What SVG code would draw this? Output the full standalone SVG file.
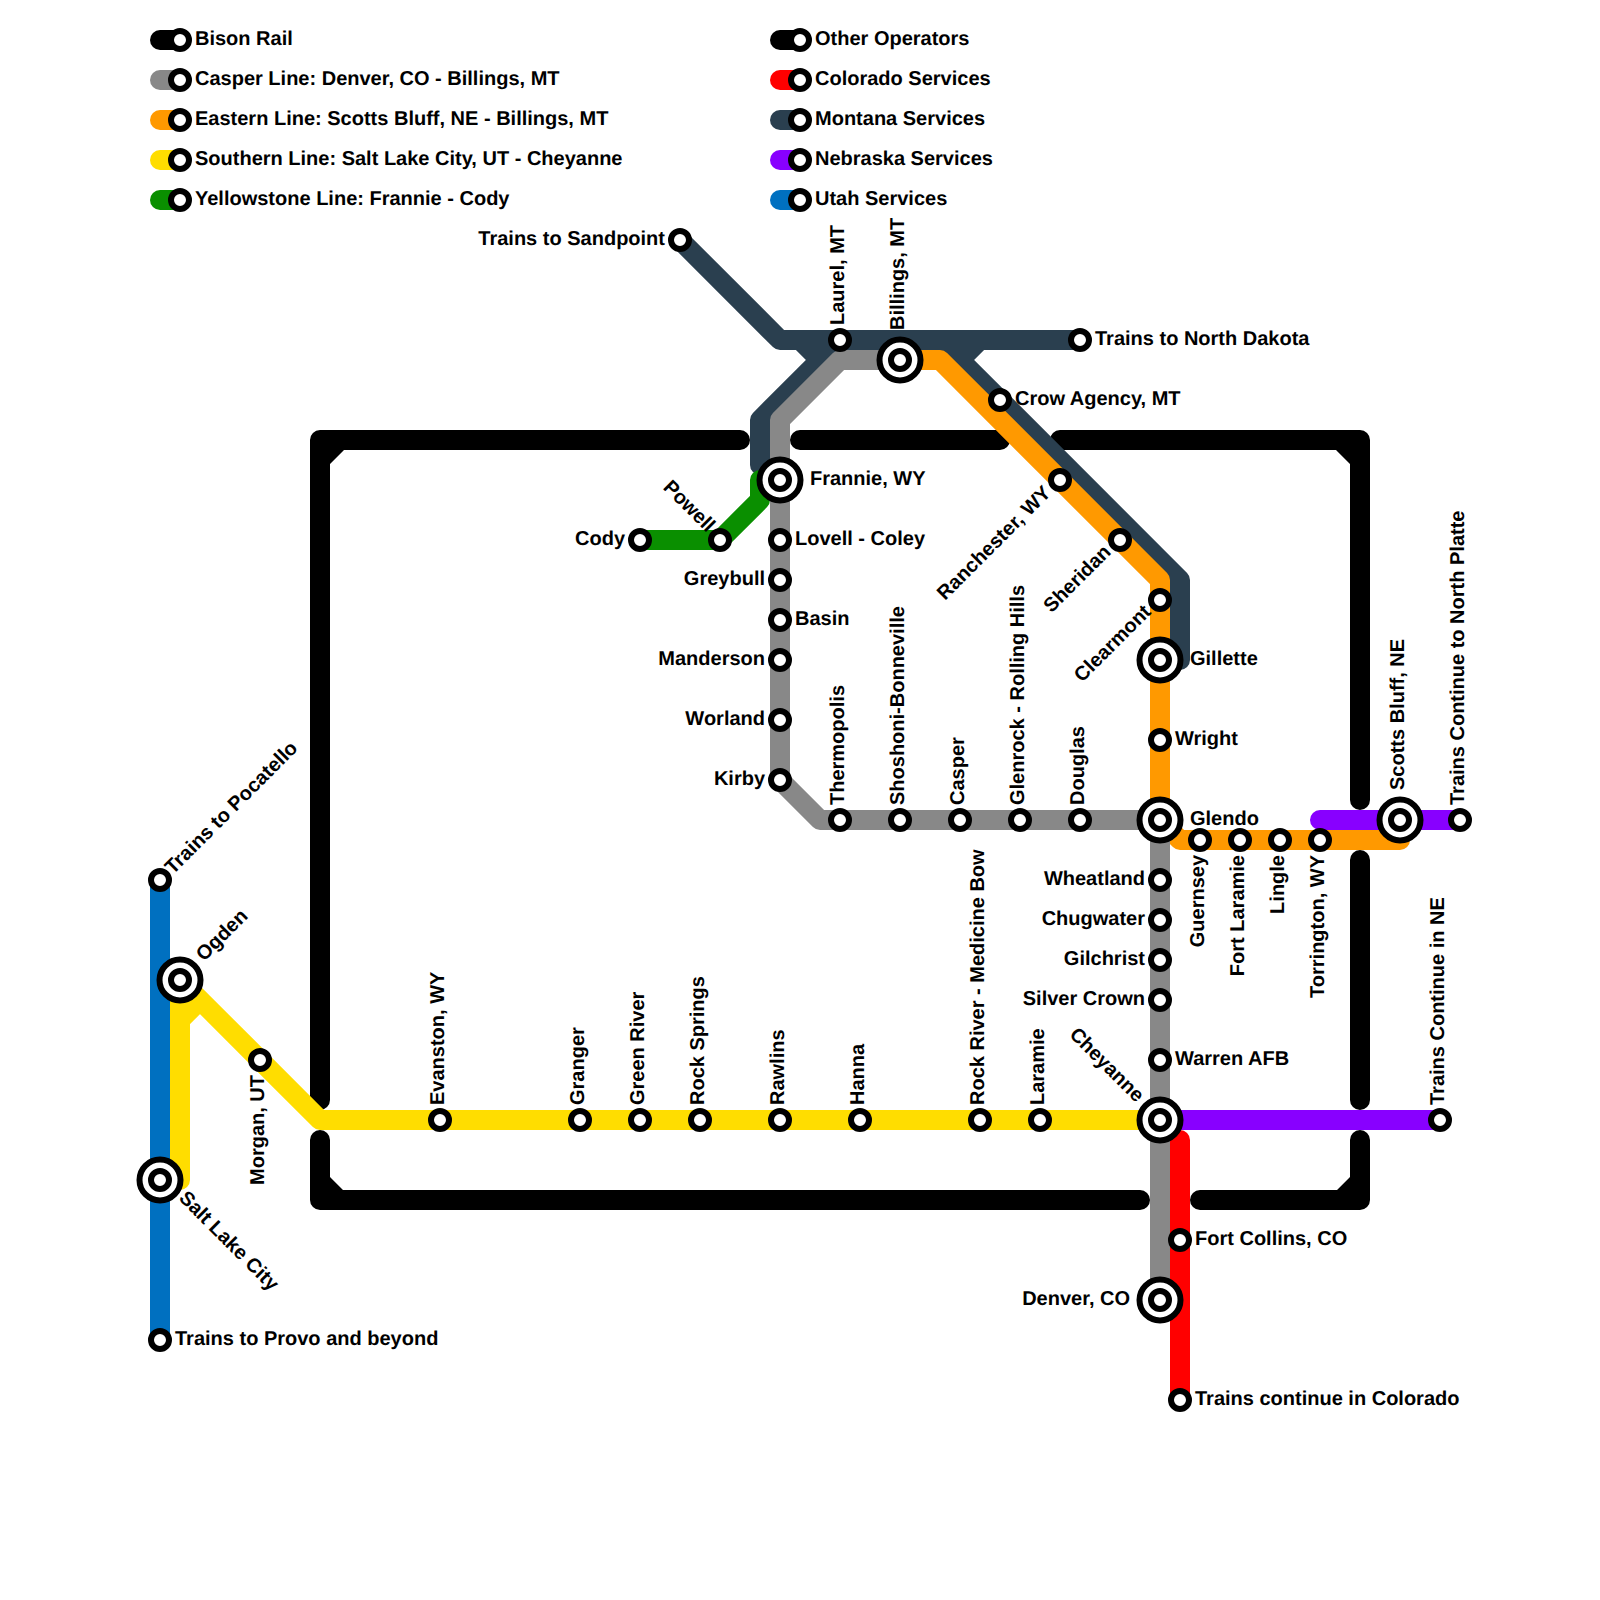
<svg xmlns="http://www.w3.org/2000/svg" width="1600" height="1600" viewBox="0 0 1600 1600">
<style>
text{font-family:"Liberation Sans",Arial,sans-serif;font-weight:700;font-size:20px;fill:#000;text-rendering:geometricPrecision}
.e{text-anchor:end}
.ln{fill:none;stroke-width:20;stroke-linecap:round;stroke-linejoin:round}
.k{stroke:#000}.g{stroke:#888}.o{stroke:#f90}.y{stroke:#fd0}.v{stroke:#0a8f00}.r{stroke:#f00}.n{stroke:#2a3f4f}.p{stroke:#80f}.b{stroke:#0070c0}
.s{fill:#fff;stroke:#000;stroke-width:6}
.i{fill:#fff;stroke:#000;stroke-width:6}
</style>
<defs>
<g id="st"><circle class="s" r="9"/></g>
<g id="bg"><circle class="i" r="20.5"/><circle class="s" r="9"/></g>
</defs>
<g id="connectors">
<path class="ln k" d="M320,1100V440H740M800,440H1000M1060,440H1360V800M1360,860V1100M1360,1140V1200H1200M1140,1200H320V1140"/>
<path fill="#000" d="M330,464V450H344ZM1336,450H1350V464ZM330,1177V1190H343ZM1350,1177V1190H1337Z"/>
<path class="ln b" d="M160,880V1340"/>
<path class="ln y" d="M180,1180V980L320,1120H1160M180,1020L200,1000"/>
<path class="ln r" d="M1180,1140V1400"/>
<path class="ln p" d="M1320,820H1460M1160,1120H1440"/>
<path class="ln n" d="M680,240L780,340H1080M840,340L760,420V465M940,340L1180,580V660M800,340L820,360M980,340L960,360"/>
<path class="ln o" d="M900,360H940L1160,580V820L1180,840H1400V820"/>
<path class="ln g" d="M900,360H840L780,420V780L820,820H1160V1300"/>
<path class="ln v" d="M640,540H720L760,500V480"/>
</g>
<g id="legend">
<g id="lg-bison"><path class="ln k" d="M160,40H180"/><use href="#st" x="180" y="40"/><text x="195" y="45">Bison Rail</text></g>
<g id="lg-casper"><path class="ln g" d="M160,80H180"/><use href="#st" x="180" y="80"/><text x="195" y="85">Casper Line: Denver, CO - Billings, MT</text></g>
<g id="lg-eastern"><path class="ln o" d="M160,120H180"/><use href="#st" x="180" y="120"/><text x="195" y="125">Eastern Line: Scotts Bluff, NE - Billings, MT</text></g>
<g id="lg-southern"><path class="ln y" d="M160,160H180"/><use href="#st" x="180" y="160"/><text x="195" y="165">Southern Line: Salt Lake City, UT - Cheyanne</text></g>
<g id="lg-yellowstone"><path class="ln v" d="M160,200H180"/><use href="#st" x="180" y="200"/><text x="195" y="205">Yellowstone Line: Frannie - Cody</text></g>
<g id="lg-other"><path class="ln k" d="M780,40H800"/><use href="#st" x="800" y="40"/><text x="815" y="45">Other Operators</text></g>
<g id="lg-colorado"><path class="ln r" d="M780,80H800"/><use href="#st" x="800" y="80"/><text x="815" y="85">Colorado Services</text></g>
<g id="lg-montana"><path class="ln n" d="M780,120H800"/><use href="#st" x="800" y="120"/><text x="815" y="125">Montana Services</text></g>
<g id="lg-nebraska"><path class="ln p" d="M780,160H800"/><use href="#st" x="800" y="160"/><text x="815" y="165">Nebraska Services</text></g>
<g id="lg-utah"><path class="ln b" d="M780,200H800"/><use href="#st" x="800" y="200"/><text x="815" y="205">Utah Services</text></g>
</g>
<g id="stations">
<g id="sandpoint"><use href="#st" x="680" y="240"/><text class="e" x="665" y="245">Trains to Sandpoint</text></g>
<g id="laurel"><use href="#st" x="840" y="340"/><text transform="translate(844 325) rotate(-90)">Laurel, MT</text></g>
<g id="billings"><use href="#bg" x="900" y="360"/><text transform="translate(904 330) rotate(-90)">Billings, MT</text></g>
<g id="north-dakota"><use href="#st" x="1080" y="340"/><text x="1095" y="345">Trains to North Dakota</text></g>
<g id="crow-agency"><use href="#st" x="1000" y="400"/><text x="1015" y="405">Crow Agency, MT</text></g>
<g id="ranchester"><use href="#st" x="1060" y="480"/><text class="e" transform="translate(1052 494) rotate(-45)">Ranchester, WY</text></g>
<g id="sheridan"><use href="#st" x="1120" y="540"/><text class="e" transform="translate(1112 553) rotate(-45)">Sheridan</text></g>
<g id="clearmont"><use href="#st" x="1160" y="600"/><text class="e" transform="translate(1152 613) rotate(-45)">Clearmont</text></g>
<g id="gillette"><use href="#bg" x="1160" y="660"/><text x="1190" y="665">Gillette</text></g>
<g id="wright"><use href="#st" x="1160" y="740"/><text x="1175" y="745">Wright</text></g>
<g id="frannie"><use href="#bg" x="780" y="480"/><text x="810" y="485">Frannie, WY</text></g>
<g id="powell"><use href="#st" x="720" y="540"/><text class="e" transform="translate(707 533) rotate(45)">Powell</text></g>
<g id="cody"><use href="#st" x="640" y="540"/><text class="e" x="625" y="545">Cody</text></g>
<g id="lovell"><use href="#st" x="780" y="540"/><text x="795" y="545">Lovell - Coley</text></g>
<g id="greybull"><use href="#st" x="780" y="580"/><text class="e" x="765" y="585">Greybull</text></g>
<g id="basin"><use href="#st" x="780" y="620"/><text x="795" y="625">Basin</text></g>
<g id="manderson"><use href="#st" x="780" y="660"/><text class="e" x="765" y="665">Manderson</text></g>
<g id="worland"><use href="#st" x="780" y="720"/><text class="e" x="765" y="725">Worland</text></g>
<g id="kirby"><use href="#st" x="780" y="780"/><text class="e" x="765" y="785">Kirby</text></g>
<g id="thermopolis"><use href="#st" x="840" y="820"/><text transform="translate(844 805) rotate(-90)">Thermopolis</text></g>
<g id="shoshoni"><use href="#st" x="900" y="820"/><text transform="translate(904 805) rotate(-90)">Shoshoni-Bonneville</text></g>
<g id="casper"><use href="#st" x="960" y="820"/><text transform="translate(964 805) rotate(-90)">Casper</text></g>
<g id="glenrock"><use href="#st" x="1020" y="820"/><text transform="translate(1024 805) rotate(-90)">Glenrock - Rolling Hills</text></g>
<g id="douglas"><use href="#st" x="1080" y="820"/><text transform="translate(1084 805) rotate(-90)">Douglas</text></g>
<g id="glendo"><use href="#bg" x="1160" y="820"/><text x="1190" y="825">Glendo</text></g>
<g id="guernsey"><use href="#st" x="1200" y="840"/><text class="e" transform="translate(1204 855) rotate(-90)">Guernsey</text></g>
<g id="fort-laramie"><use href="#st" x="1240" y="840"/><text class="e" transform="translate(1244 855) rotate(-90)">Fort Laramie</text></g>
<g id="lingle"><use href="#st" x="1280" y="840"/><text class="e" transform="translate(1284 855) rotate(-90)">Lingle</text></g>
<g id="torrington"><use href="#st" x="1320" y="840"/><text class="e" transform="translate(1324 855) rotate(-90)">Torrington, WY</text></g>
<g id="scotts-bluff"><use href="#bg" x="1400" y="820"/><text transform="translate(1404 790) rotate(-90)">Scotts Bluff, NE</text></g>
<g id="north-platte"><use href="#st" x="1460" y="820"/><text transform="translate(1464 805) rotate(-90)">Trains Continue to North Platte</text></g>
<g id="wheatland"><use href="#st" x="1160" y="880"/><text class="e" x="1145" y="885">Wheatland</text></g>
<g id="chugwater"><use href="#st" x="1160" y="920"/><text class="e" x="1145" y="925">Chugwater</text></g>
<g id="gilchrist"><use href="#st" x="1160" y="960"/><text class="e" x="1145" y="965">Gilchrist</text></g>
<g id="silver-crown"><use href="#st" x="1160" y="1000"/><text class="e" x="1145" y="1005">Silver Crown</text></g>
<g id="warren"><use href="#st" x="1160" y="1060"/><text x="1175" y="1065">Warren AFB</text></g>
<g id="cheyenne"><use href="#bg" x="1160" y="1120"/><text class="e" transform="translate(1136 1103) rotate(45)">Cheyanne</text></g>
<g id="continue-ne"><use href="#st" x="1440" y="1120"/><text transform="translate(1444 1105) rotate(-90)">Trains Continue in NE</text></g>
<g id="fort-collins"><use href="#st" x="1180" y="1240"/><text x="1195" y="1245">Fort Collins, CO</text></g>
<g id="denver"><use href="#bg" x="1160" y="1300"/><text class="e" x="1130" y="1305">Denver, CO</text></g>
<g id="continue-co"><use href="#st" x="1180" y="1400"/><text x="1195" y="1405">Trains continue in Colorado</text></g>
<g id="pocatello"><use href="#st" x="160" y="880"/><text transform="translate(173 875) rotate(-45)">Trains to Pocatello</text></g>
<g id="ogden"><use href="#bg" x="180" y="980"/><text transform="translate(204 962) rotate(-45)">Ogden</text></g>
<g id="morgan"><use href="#st" x="260" y="1060"/><text class="e" transform="translate(264 1075) rotate(-90)">Morgan, UT</text></g>
<g id="salt-lake"><use href="#bg" x="160" y="1180"/><text transform="translate(178 1199) rotate(45)">Salt Lake City</text></g>
<g id="provo"><use href="#st" x="160" y="1340"/><text x="175" y="1345">Trains to Provo and beyond</text></g>
<g id="evanston"><use href="#st" x="440" y="1120"/><text transform="translate(444 1105) rotate(-90)">Evanston, WY</text></g>
<g id="granger"><use href="#st" x="580" y="1120"/><text transform="translate(584 1105) rotate(-90)">Granger</text></g>
<g id="green-river"><use href="#st" x="640" y="1120"/><text transform="translate(644 1105) rotate(-90)">Green River</text></g>
<g id="rock-springs"><use href="#st" x="700" y="1120"/><text transform="translate(704 1105) rotate(-90)">Rock Springs</text></g>
<g id="rawlins"><use href="#st" x="780" y="1120"/><text transform="translate(784 1105) rotate(-90)">Rawlins</text></g>
<g id="hanna"><use href="#st" x="860" y="1120"/><text transform="translate(864 1105) rotate(-90)">Hanna</text></g>
<g id="rock-river"><use href="#st" x="980" y="1120"/><text transform="translate(984 1105) rotate(-90)">Rock River - Medicine Bow</text></g>
<g id="laramie"><use href="#st" x="1040" y="1120"/><text transform="translate(1044 1105) rotate(-90)">Laramie</text></g>
</g>
</svg>
